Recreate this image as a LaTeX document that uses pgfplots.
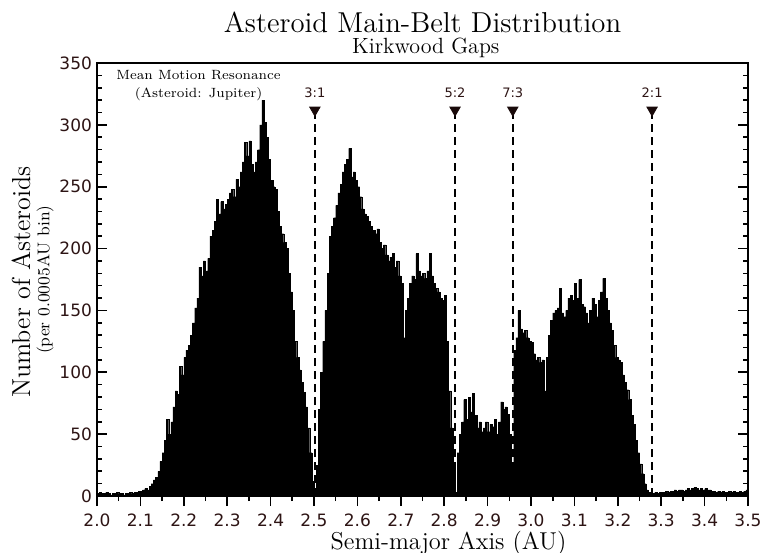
\documentclass[border=0pt]{standalone}
\usepackage{fontspec}
\usepackage{pgfplots}
\pgfplotsset{compat=1.18}
\newfontfamily\tickfont{DejaVu Sans}
\definecolor{tickcol}{RGB}{45,20,20}
\definecolor{tricol}{RGB}{25,10,10}
\begin{document}
\begin{tikzpicture}
\begin{axis}[
  scale only axis,
  width=325.5pt, height=216.5pt,
  xmin=2.0, xmax=3.5, ymin=0, ymax=350,
  xtick={2.0,2.1,...,3.5},
  minor x tick num=1,
  ytick={0,50,...,350},
  minor y tick num=4,
  xtick pos=bottom, ytick pos=both,
  xtick align=outside, ytick align=inside,
  major tick length=5pt, minor tick length=2.5pt,
  every tick/.style={black, line width=0.8pt},
  axis line style={line width=1pt},
  tick label style={font=\tickfont\fontsize{8.5}{10}\selectfont, text=tickcol},
  /pgf/number format/assume math mode=true,
  xticklabel style={inner sep=0.5pt, yshift=-3pt, text depth=0pt, /pgf/number format/fixed, /pgf/number format/fixed zerofill, /pgf/number format/precision=1},
  yticklabel style={xshift=1pt, /pgf/number format/fixed},
  clip=false,
]
\addplot[ybar interval, fill=black, draw=black, line width=0.1pt] coordinates {
(2.000,2) (2.005,3) (2.010,2) (2.015,2) (2.020,3) (2.025,2) (2.030,1) (2.035,2) (2.040,2) (2.045,3)
(2.050,2) (2.055,2) (2.060,1) (2.065,2) (2.070,2) (2.075,3) (2.080,2) (2.085,3) (2.090,3) (2.095,4)
(2.100,4) (2.105,5) (2.110,6) (2.115,5) (2.120,8) (2.125,10) (2.130,13) (2.135,15) (2.140,20) (2.145,28)
(2.150,35) (2.155,45) (2.160,62) (2.165,50) (2.170,60) (2.175,72) (2.180,85) (2.185,82) (2.190,105) (2.195,98)
(2.200,112) (2.205,118) (2.210,122) (2.215,130) (2.220,140) (2.225,152) (2.230,160) (2.235,185) (2.240,178) (2.245,190)
(2.250,182) (2.255,192) (2.260,210) (2.265,215) (2.270,222) (2.275,240) (2.280,228) (2.285,238) (2.290,232) (2.295,236)
(2.300,240) (2.305,245) (2.310,248) (2.315,242) (2.320,256) (2.325,250) (2.330,262) (2.335,270) (2.340,286) (2.345,275)
(2.350,287) (2.355,268) (2.360,262) (2.365,270) (2.370,280) (2.375,300) (2.380,320) (2.385,302) (2.390,290) (2.395,272)
(2.400,255) (2.405,250) (2.410,248) (2.415,230) (2.420,218) (2.425,212) (2.430,205) (2.435,200) (2.440,180) (2.445,165)
(2.450,150) (2.455,125) (2.460,112) (2.465,102) (2.470,92) (2.475,84) (2.480,72) (2.485,55) (2.490,35) (2.495,12)
(2.500,3) (2.505,25) (2.510,70) (2.515,100) (2.520,125) (2.525,150) (2.530,180) (2.535,210) (2.540,218) (2.545,225)
(2.550,235) (2.555,245) (2.560,252) (2.565,262) (2.570,268) (2.575,272) (2.580,281) (2.585,258) (2.590,262) (2.595,255)
(2.600,250) (2.605,242) (2.610,232) (2.615,228) (2.620,226) (2.625,222) (2.630,218) (2.635,215) (2.640,212) (2.645,216)
(2.650,205) (2.655,200) (2.660,203) (2.665,195) (2.670,190) (2.675,193) (2.680,196) (2.685,185) (2.690,190) (2.695,178)
(2.700,172) (2.705,128) (2.710,150) (2.715,160) (2.720,172) (2.725,178) (2.730,175) (2.735,196) (2.740,182) (2.745,178)
(2.750,180) (2.755,176) (2.760,182) (2.765,196) (2.770,178) (2.775,172) (2.780,168) (2.785,165) (2.790,160) (2.795,158)
(2.800,162) (2.805,125) (2.810,85) (2.815,55) (2.820,25) (2.825,3) (2.830,35) (2.835,50) (2.840,60) (2.845,78)
(2.850,62) (2.855,80) (2.860,68) (2.865,83) (2.870,65) (2.875,55) (2.880,60) (2.885,52) (2.890,55) (2.895,60)
(2.900,52) (2.905,58) (2.910,56) (2.915,62) (2.920,50) (2.925,60) (2.930,76) (2.935,70) (2.940,72) (2.945,66)
(2.950,50) (2.955,22) (2.960,118) (2.965,128) (2.970,150) (2.975,135) (2.980,132) (2.985,134) (2.990,128) (2.995,125)
(3.000,124) (3.005,115) (3.010,110) (3.015,112) (3.020,108) (3.025,110) (3.030,85) (3.035,112) (3.040,130) (3.045,142)
(3.050,148) (3.055,150) (3.060,152) (3.065,168) (3.070,148) (3.075,145) (3.080,150) (3.085,160) (3.090,162) (3.095,158)
(3.100,172) (3.105,160) (3.110,175) (3.115,155) (3.120,153) (3.125,148) (3.130,140) (3.135,150) (3.140,160) (3.145,155)
(3.150,145) (3.155,158) (3.160,165) (3.165,176) (3.170,160) (3.175,150) (3.180,140) (3.185,134) (3.190,122) (3.195,112)
(3.200,110) (3.205,108) (3.210,98) (3.215,92) (3.220,86) (3.225,78) (3.230,65) (3.235,58) (3.240,45) (3.245,35)
(3.250,26) (3.255,18) (3.260,10) (3.265,5) (3.270,3) (3.275,2) (3.280,2) (3.285,3) (3.290,2) (3.295,3)
(3.300,3) (3.305,3) (3.310,4) (3.315,3) (3.320,4) (3.325,4) (3.330,5) (3.335,4) (3.340,5) (3.345,5)
(3.350,4) (3.355,5) (3.360,6) (3.365,5) (3.370,6) (3.375,7) (3.380,6) (3.385,5) (3.390,6) (3.395,5)
(3.400,6) (3.405,5) (3.410,5) (3.415,4) (3.420,4) (3.425,3) (3.430,4) (3.435,3) (3.440,4) (3.445,3)
(3.450,3) (3.455,4) (3.460,3) (3.465,4) (3.470,3) (3.475,3) (3.480,4) (3.485,3) (3.490,4) (3.495,5)
(3.500,5)
};
% resonance lines
\addplot[black, line width=0.8pt, dash pattern=on 4pt off 2.5pt] coordinates {(2.502,0) (2.502,310)};
\addplot[black, line width=0.8pt, dash pattern=on 4pt off 2.5pt] coordinates {(2.825,0) (2.825,310)};
\addplot[black, line width=0.8pt, dash pattern=on 4pt off 2.5pt] coordinates {(2.958,0) (2.958,310)};
\addplot[black, line width=0.8pt, dash pattern=on 4pt off 2.5pt] coordinates {(3.279,0) (3.279,310)};
\addplot[only marks, mark=triangle*, mark size=3pt, mark options={rotate=180, fill=tricol, draw=tricol}] coordinates {(2.502,312) (2.825,312) (2.958,312) (3.279,312)};
\node[font=\tickfont\fontsize{6.5}{7}\selectfont, text=tickcol] at (axis cs:2.502,326) {3:1};
\node[font=\tickfont\fontsize{6.5}{7}\selectfont, text=tickcol] at (axis cs:2.825,326) {5:2};
\node[font=\tickfont\fontsize{6.5}{7}\selectfont, text=tickcol] at (axis cs:2.958,326) {7:3};
\node[font=\tickfont\fontsize{6.5}{7}\selectfont, text=tickcol] at (axis cs:3.279,326) {2:1};
\node[font=\fontsize{6.7}{9}\selectfont, align=center, inner sep=0pt] at (axis cs:2.234,332) {Mean Motion Resonance\\(Asteroid: Jupiter)};
% titles and labels
\node[font=\fontsize{14.4}{16}\selectfont, anchor=base] at (rel axis cs:0.5,1.0716) {Asteroid Main-Belt Distribution};
\node[font=\fontsize{11}{13}\selectfont, anchor=base] at (rel axis cs:0.505,1.0231) {Kirkwood Gaps};
\node[font=\fontsize{12.2}{15}\selectfont, anchor=base, inner sep=0pt] at ([yshift=-26.8pt]rel axis cs:0.54,0) {Semi-major Axis (AU)};
\node[font=\fontsize{13}{15}\selectfont, rotate=90] at ([xshift=-38pt]rel axis cs:0,0.494) {Number of Asteroids};
\node[font=\fontsize{8.5}{10}\selectfont, rotate=90] at ([xshift=-26pt]rel axis cs:0,0.5) {(per 0.0005AU bin)};
\coordinate (BL) at (rel axis cs:0,0);
\coordinate (TR) at (rel axis cs:1,1);
\end{axis}
\pgfresetboundingbox
\path[use as bounding box] ([shift={(-48.5pt,-28pt)}]BL) rectangle ([shift={(6.5pt,31.5pt)}]TR);
\end{tikzpicture}
\end{document}
